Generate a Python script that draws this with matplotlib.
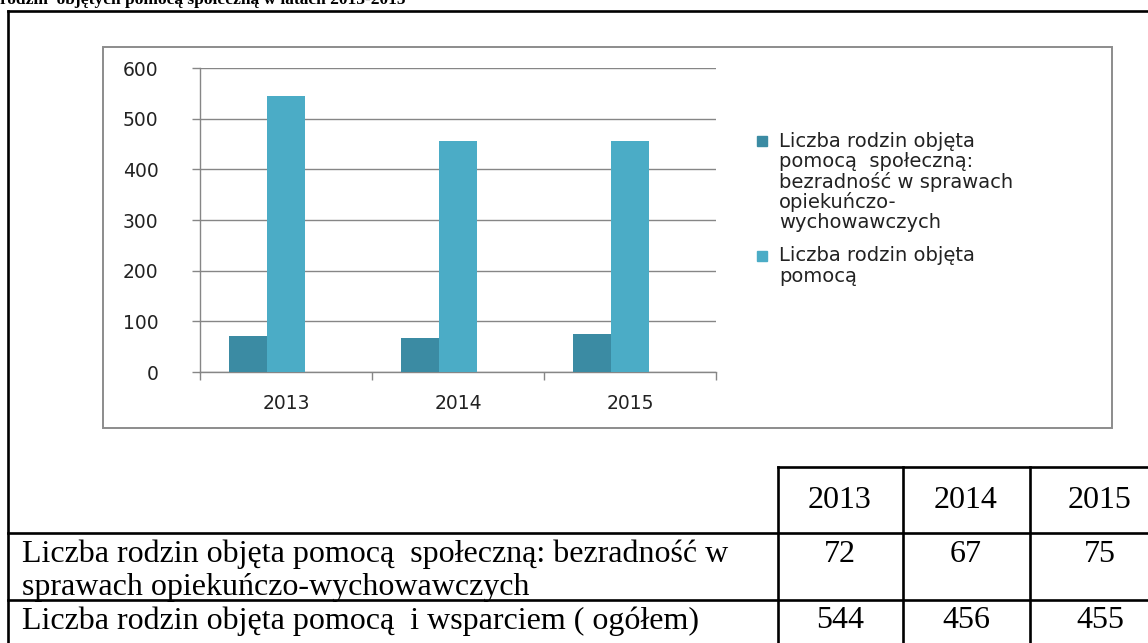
import matplotlib
matplotlib.use("Agg")
import matplotlib.pyplot as plt
from matplotlib.patches import Rectangle
from matplotlib.lines import Line2D
import numpy as np

# ---- data ----
years = ["2013", "2014", "2015"]
series_names = [
    "Liczba rodzin objęta\npomocą  społeczną:\nbezradność w sprawach\nopiekuńczo-\nwychowawczych",
    "Liczba rodzin objęta\npomocą",
]
bezradnosc = [72, 67, 75]
ogolem = [544, 456, 455]
row_labels = [
    "Liczba rodzin objęta pomocą  społeczną: bezradność w\nsprawach opiekuńczo-wychowawczych",
    "Liczba rodzin objęta pomocą  i wsparciem ( ogółem)",
]
title_text = "rodzin  objętych pomocą społeczną w latach 2013-2015"
yticks = [0, 100, 200, 300, 400, 500, 600]

W, H = 1148, 643
fig = plt.figure(figsize=(W / 100, H / 100), dpi=100)
fig.patch.set_facecolor("white")

def fx(px):
    return px / W

def fy(py):
    return 1 - py / H

def hline(x0, x1, y, lw=1.9, color="black"):
    fig.add_artist(Line2D([fx(x0), fx(x1)], [fy(y), fy(y)], lw=lw, color=color,
                          transform=fig.transFigure, solid_capstyle="projecting"))

def vline(x, y0, y1, lw=1.9, color="black"):
    fig.add_artist(Line2D([fx(x), fx(x)], [fy(y0), fy(y1)], lw=lw, color=color,
                          transform=fig.transFigure, solid_capstyle="projecting"))

# ---- title (cut off at top, as in the source page) ----
fig.text(fx(0), fy(4), title_text, fontsize=12.5, fontweight="bold",
         family="Liberation Serif", ha="left", va="baseline")

# ---- outer document box / table lines ----
hline(8, W + 5, 11)
vline(8, 11, H + 5)
hline(778, W + 5, 467)
vline(778, 467, H + 5)
vline(903, 467, H + 5)
vline(1030, 467, H + 5)
hline(8, W + 5, 533)
hline(8, W + 5, 600)

# ---- chart frame ----
fig.add_artist(Rectangle((fx(103), fy(428)), fx(1112) - fx(103), fy(47) - fy(428),
                         transform=fig.transFigure, fill=False,
                         edgecolor="#8c8c8c", lw=1.4))

# ---- chart axes ----
ax_l, ax_r, ax_t, ax_b = 200, 716, 68, 372
ax = fig.add_axes([fx(ax_l), fy(ax_b), fx(ax_r) - fx(ax_l), fy(ax_t) - fy(ax_b)])
x = np.arange(len(years))
dark = "#3B8BA3"
light = "#4BACC6"
ax.bar(x - 0.33, bezradnosc, width=0.22, align="edge", color=dark, zorder=3)
ax.bar(x - 0.11, ogolem, width=0.22, align="edge", color=light, zorder=3)
ax.set_xlim(-0.5, len(years) - 0.5)
ax.set_ylim(0, 600)
ax.set_yticks(yticks)
ax.set_yticklabels([str(v) for v in yticks], fontsize=13.5, family="DejaVu Sans", color="#222222")
ax.set_xticks(x)
ax.set_xticklabels(years, fontsize=13.5, family="DejaVu Sans", color="#222222")
ax.set_xticks(np.arange(len(years) + 1) - 0.5, minor=True)
ax.tick_params(axis="x", which="major", length=0, pad=16)
ax.tick_params(axis="x", which="minor", length=6, color="#868686", width=1)
ax.tick_params(axis="y", length=6, color="#868686", width=1, pad=24)
ax.yaxis.grid(True, color="#868686", lw=1, zorder=0)
for s in ["top", "right"]:
    ax.spines[s].set_visible(False)
for s in ["left", "bottom"]:
    ax.spines[s].set_color("#868686")
    ax.spines[s].set_linewidth(1)
ax.set_facecolor("none")

# ---- legend (manual) ----
leg_x_box, leg_x_text = 757, 779
line_h = 20.5
y0 = 141
for name, col in zip(series_names, [dark, light]):
    fig.add_artist(Rectangle((fx(leg_x_box), fy(y0 + 5)), fx(10), fy(y0 - 5) - fy(y0 + 5),
                             transform=fig.transFigure, color=col))
    lines = name.split("\n")
    for i, ln in enumerate(lines):
        fig.text(fx(leg_x_text), fy(y0 + i * line_h), ln, fontsize=14,
                 family="DejaVu Sans", color="#222222", ha="left", va="center")
    y0 += len(lines) * line_h + 12

# ---- table text ----
col_centers = [840, 966, 1100]
tfont = dict(family="Liberation Serif", fontsize=23, color="black")
for cx, yr in zip(col_centers, years):
    fig.text(fx(cx), fy(500), yr, ha="center", va="center", **tfont)
row1_lines = row_labels[0].split("\n")
for i, ln in enumerate(row1_lines):
    fig.text(fx(22), fy(554 + i * 33), ln, ha="left", va="center", **tfont)
fig.text(fx(22), fy(621), row_labels[1], ha="left", va="center", **tfont)
for cx, v in zip(col_centers, bezradnosc):
    fig.text(fx(cx), fy(554), str(v), ha="center", va="center", **tfont)
for cx, v in zip(col_centers, ogolem):
    fig.text(fx(cx), fy(621), str(v), ha="center", va="center", **tfont)

fig.savefig("out.png", dpi=100)
